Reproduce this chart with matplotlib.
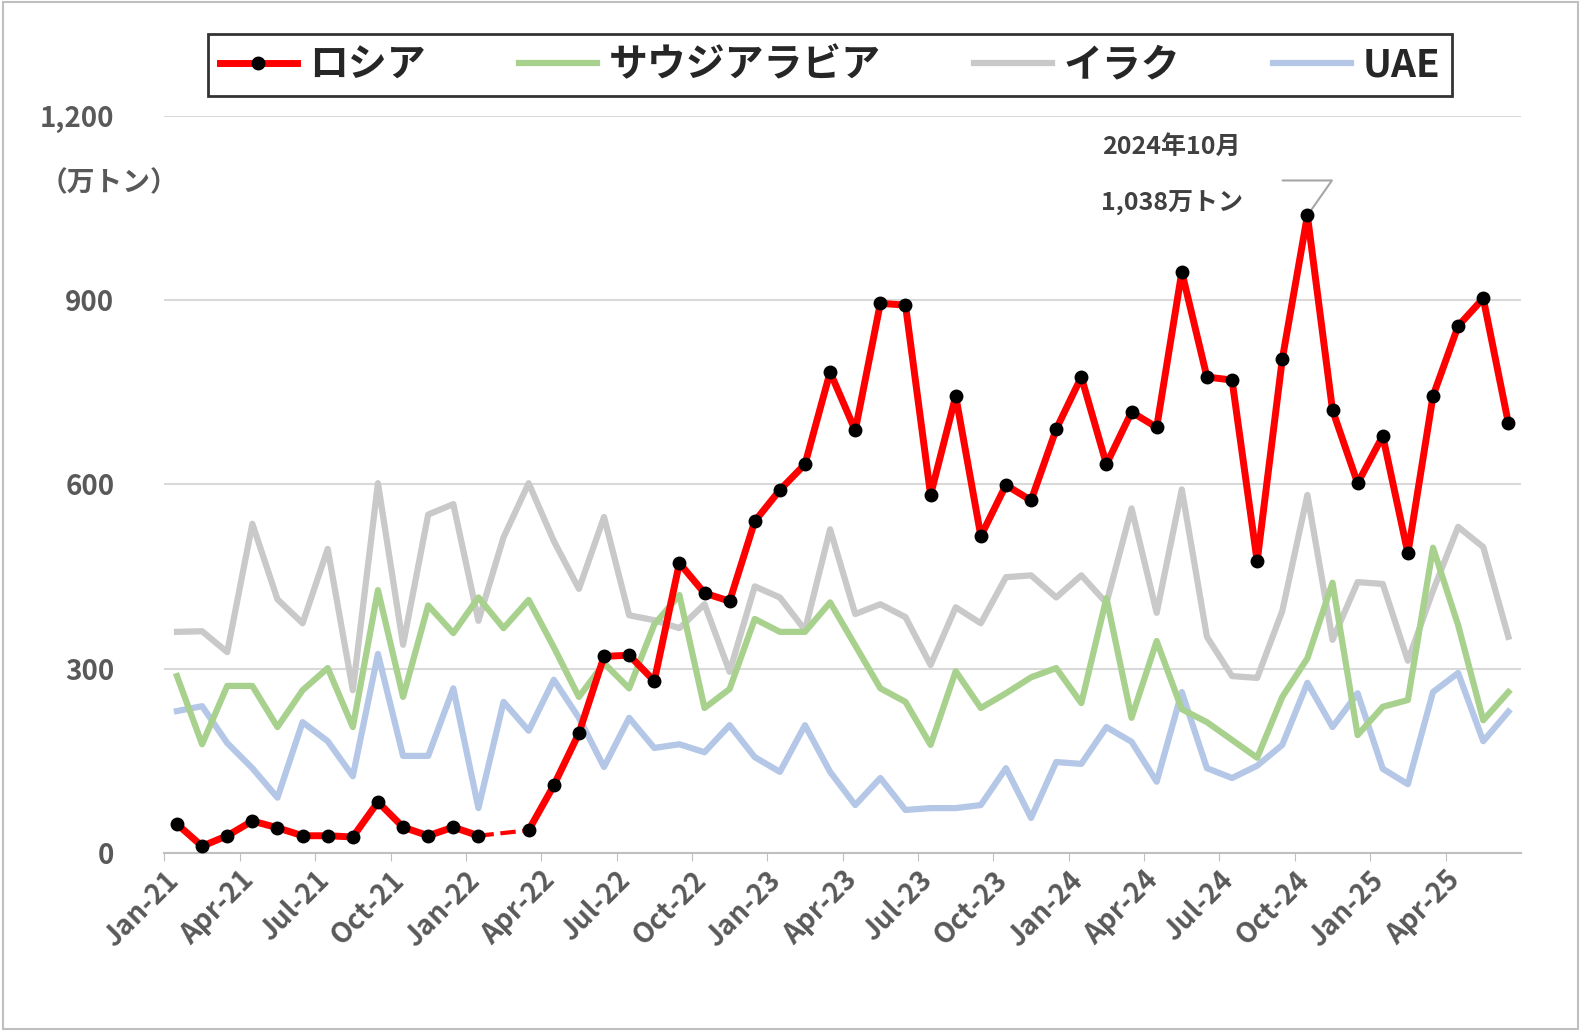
import numpy as np
import matplotlib.pyplot as plt
from matplotlib.patches import Rectangle

plt.rcParams['font.family'] = ['Noto Sans CJK JP']

# Monthly imports (万トン), Jan-21 .. Jun-25
tick_labels = ['Jan-21', 'Apr-21', 'Jul-21', 'Oct-21', 'Jan-22', 'Apr-22', 'Jul-22', 'Oct-22',
               'Jan-23', 'Apr-23', 'Jul-23', 'Oct-23', 'Jan-24', 'Apr-24', 'Jul-24', 'Oct-24',
               'Jan-25', 'Apr-25']

russia = [47, 11, 28, 52, 41, 28, 28, 26, 83, 42, 28, 42,
          28, np.nan, 37, 110, 195, 320, 322, 280, 472, 423, 410, 540,
          591, 633, 783, 688, 895, 892, 583, 744, 516, 599, 574, 690,
          775, 633, 718, 693, 946, 775, 770, 475, 804, 1038, 721, 602,
          679, 488, 744, 858, 903, 700]
saudi = [288, 177, 272, 272, 205, 265, 301, 205, 428, 254, 403, 358,
         416, 366, 412, 335, 254, 309, 268, 372, 420, 236, 267, 381,
         360, 360, 408, 338, 268, 246, 176, 296, 236, 260, 286, 301,
         244, 415, 220, 345, 234, 213, 184, 155, 254, 317, 440, 192,
         238, 249, 497, 371, 216, 262]
iraq = [360, 361, 327, 536, 413, 374, 495, 265, 602, 339, 551, 568,
        378, 514, 602, 508, 430, 547, 387, 379, 366, 405, 295, 434,
        416, 363, 527, 389, 405, 384, 306, 400, 374, 449, 452, 416,
        452, 407, 561, 391, 592, 352, 288, 285, 394, 583, 347, 441,
        438, 313, 427, 531, 498, 352]
uae = [231, 239, 179, 138, 90, 213, 182, 125, 324, 158, 158, 268,
       73, 246, 199, 282, 220, 140, 220, 171, 177, 164, 208, 156,
       132, 208, 132, 78, 122, 70, 73, 73, 78, 138, 57, 148,
       145, 205, 181, 116, 262, 138, 122, 142, 176, 277, 205, 260,
       137, 112, 262, 293, 182, 230]

x = np.arange(len(russia))
txt = '#595959'

fig = plt.figure(figsize=(15.81, 10.31), dpi=100)
ax = fig.add_axes([0.104, 0.1727, 0.858, 0.7148])

ax.plot(x, iraq, color='#c9c9c9', lw=4.5, zorder=2)
ax.plot(x, saudi, color='#a9d18e', lw=4.5, zorder=3)
ax.plot(x, uae, color='#b4c7e7', lw=4.5, zorder=2)
# dashed bridge over the missing Feb-22 value
ax.plot([12, 14], [russia[12], russia[14]], color='red', lw=3, ls='--', zorder=4)
ax.plot(x, russia, color='red', lw=5, marker='o', ms=9, mfc='black', mec='black', zorder=5)

ax.set_xlim(-0.5, len(x) - 0.5)
ax.set_ylim(0, 1200)
ax.set_yticks([0, 300, 600, 900, 1200])
ax.set_yticklabels(['0', '300', '600', '900', '1,200'])
ax.set_xticks(np.arange(-0.5, len(x) - 0.5, 3))
ax.set_xticklabels(tick_labels, rotation=45, ha='right', rotation_mode='anchor')
ax.tick_params(axis='both', colors=txt, labelsize=20)
for lab in ax.get_xticklabels() + ax.get_yticklabels():
    lab.set_fontweight('bold')
ax.tick_params(axis='y', length=0, pad=36)
ax.tick_params(axis='x', length=6, color='#bfbfbf')
ax.grid(axis='y', color='#d9d9d9', lw=1.5)
ax.set_axisbelow(True)
for s in ['top', 'right', 'left']:
    ax.spines[s].set_visible(False)
ax.spines['bottom'].set_color('#bfbfbf')
ax.spines['bottom'].set_linewidth(1.5)

fig.text(0.025, 0.815, '（万トン）', fontsize=20, fontweight='bold', color=txt)

# peak annotation
ax.annotate('', xy=(45, 1038), xytext=(43.9, 1095),
            arrowprops=dict(arrowstyle='-', color='#a6a6a6', lw=1.5,
                            connectionstyle='angle,angleA=0,angleB=55'))
ax.text(39.6, 1138, '2024年10月', fontsize=18, fontweight='bold', color='#404040', ha='center')
ax.text(39.6, 1045, '1,038万トン', fontsize=18, fontweight='bold', color='#404040', ha='center')

leg = fig.legend(handles=ax.lines[4:5] + ax.lines[1:2] + ax.lines[0:1] + ax.lines[2:3],
                 labels=['ロシア', 'サウジアラビア', 'イラク', 'UAE'],
                 loc='center', bbox_to_anchor=(0.525, 0.937), ncol=4, frameon=True,
                 fancybox=False, edgecolor='black', fontsize=28, handlelength=2.0,
                 handletextpad=0.3, columnspacing=2.4, borderpad=0.3)
leg.get_frame().set_linewidth(2)
for t in leg.get_texts():
    t.set_fontweight('bold')
    t.set_color('#262626')

fig.patches.append(Rectangle((0.002, 0.002), 0.996, 0.996, transform=fig.transFigure,
                             fill=False, edgecolor='#bfbfbf', lw=1.5))

fig.savefig('out.png', dpi=100)
